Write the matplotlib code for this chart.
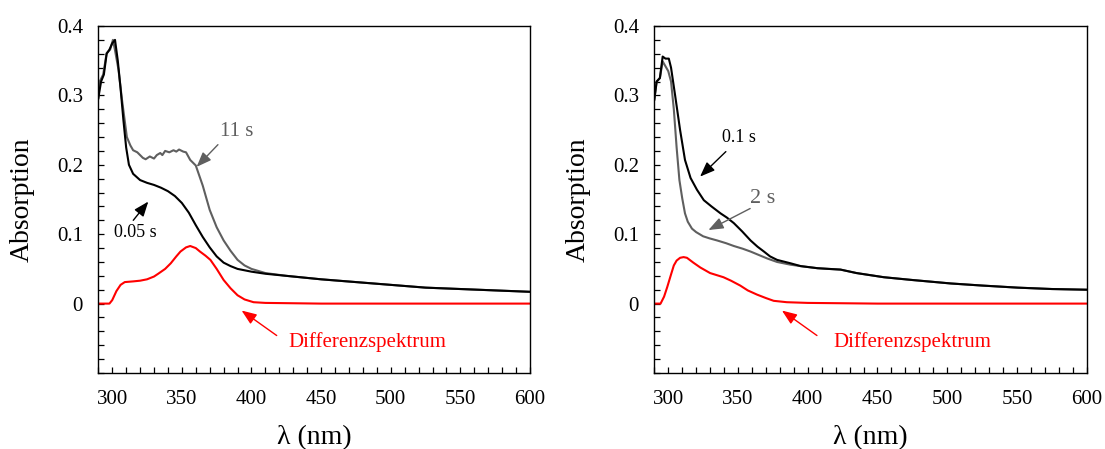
import matplotlib
matplotlib.use("Agg")
import matplotlib.pyplot as plt
from matplotlib.ticker import MultipleLocator, FixedLocator, FuncFormatter

plt.rcParams['font.family'] = ['Liberation Serif', 'DejaVu Serif']

# ---------------- Left panel data ----------------
wl_L_black = [290, 292, 294, 296, 298, 300, 302, 304, 306, 308, 310, 312, 315, 320, 325, 330,
              335, 340, 345, 350, 355, 360, 365, 370, 375, 380, 385, 390, 400, 410, 425, 450,
              475, 500, 525, 550, 575, 600]
abs_L_black = [0.296, 0.320, 0.330, 0.360, 0.366, 0.375, 0.380, 0.350, 0.310, 0.265, 0.225, 0.200,
               0.187, 0.178, 0.174, 0.171, 0.167, 0.162, 0.155, 0.145, 0.131, 0.113, 0.096, 0.081,
               0.068, 0.059, 0.054, 0.050, 0.046, 0.043, 0.040, 0.035, 0.031, 0.027, 0.023, 0.021,
               0.019, 0.017]

wl_L_gray = [290, 291, 293.5, 296, 298.5, 300.5, 302, 304.5, 307, 310.5, 313, 315, 318, 320, 322,
             324, 327, 330, 332, 334.5, 336, 338, 341, 344, 346, 348, 351, 353, 356, 360, 365, 370,
             375, 380, 385, 390, 395, 400, 410, 425, 450, 475, 500, 525, 550, 575, 600]
abs_L_gray = [0.296, 0.320, 0.330, 0.361, 0.366, 0.380, 0.365, 0.337, 0.294, 0.240, 0.228, 0.221,
              0.218, 0.214, 0.210, 0.208, 0.212, 0.209, 0.214, 0.217, 0.214, 0.220, 0.218, 0.221,
              0.219, 0.222, 0.219, 0.218, 0.207, 0.199, 0.170, 0.135, 0.110, 0.091, 0.076, 0.063,
              0.055, 0.050, 0.044, 0.040, 0.035, 0.031, 0.027, 0.023, 0.021, 0.019, 0.017]

wl_L_diff = [290, 298, 300, 303, 306, 309, 315, 320, 325, 330, 333, 338, 342, 346, 349, 353, 356,
             360, 363, 367, 370.5, 375, 380, 385, 390, 395, 401.5, 410, 450, 500, 550, 600]
abs_L_diff = [0.0, 0.0, 0.005, 0.018, 0.027, 0.031, 0.032, 0.033, 0.035, 0.039, 0.043, 0.050,
              0.058, 0.068, 0.075, 0.081, 0.083, 0.080, 0.075, 0.069, 0.063, 0.050, 0.034, 0.022,
              0.012, 0.006, 0.002, 0.001, 0.0, 0.0, 0.0, 0.0]

# ---------------- Right panel data ----------------
wl_R_black = [290, 291.7, 294, 296, 298, 300.4, 302, 305, 308.5, 312, 316, 320.6, 325.5, 331,
              337.5, 342, 347, 353, 359, 364, 368.6, 373, 378, 387.8, 395, 407, 415, 423.5, 435,
              454.6, 475, 502.6, 525, 550.5, 575, 600]
abs_R_black = [0.294, 0.320, 0.325, 0.356, 0.353, 0.353, 0.340, 0.299, 0.250, 0.207, 0.181, 0.164,
               0.149, 0.140, 0.130, 0.124, 0.116, 0.104, 0.091, 0.082, 0.075, 0.068, 0.063, 0.058,
               0.054, 0.051, 0.050, 0.049, 0.044, 0.038, 0.034, 0.029, 0.026, 0.023, 0.021, 0.020]

wl_R_gray = [290, 291.7, 294, 296, 298, 300, 302, 304, 306, 308, 310, 312, 314, 317, 320, 325,
             329.6, 335, 341.5, 347, 353.5, 359, 365, 371, 378, 387.8, 395, 407, 415, 423.5, 435,
             454.6, 475, 502.6, 525, 550.5, 575, 600]
abs_R_gray = [0.294, 0.320, 0.325, 0.349, 0.342, 0.335, 0.320, 0.280, 0.225, 0.178, 0.152, 0.130,
              0.118, 0.108, 0.103, 0.097, 0.094, 0.091, 0.087, 0.083, 0.079, 0.075, 0.070, 0.065,
              0.060, 0.056, 0.054, 0.051, 0.050, 0.049, 0.044, 0.038, 0.034, 0.029, 0.026, 0.023,
              0.021, 0.020]

wl_R_diff = [290, 294.5, 297, 299.3, 302, 304, 306, 308.5, 311, 313.4, 318, 323, 330, 339.6, 345,
             351.6, 357, 363.6, 370, 375.6, 385, 400, 450, 500, 550, 600]
abs_R_diff = [0.0, 0.0, 0.010, 0.024, 0.042, 0.055, 0.062, 0.066, 0.067, 0.066, 0.059, 0.052,
              0.044, 0.038, 0.033, 0.026, 0.019, 0.013, 0.008, 0.004, 0.002, 0.001, 0.0, 0.0, 0.0,
              0.0]

GRAY = '#5f5f5f'
RED = '#ff0000'

fig = plt.figure(figsize=(11.05, 4.49), dpi=100)
axL = fig.add_axes([98.3 / 1105, 1 - 373 / 449, (530 - 98.3) / 1105, (373 - 26) / 449])
axR = fig.add_axes([654.3 / 1105, 1 - 373 / 449, (1086.7 - 654.3) / 1105, (373 - 26) / 449])


def yfmt(v, pos):
    if abs(v) < 1e-9:
        return '0'
    return '%.1f' % v


for ax in (axL, axR):
    ax.set_xlim(290, 600)
    ax.set_ylim(-0.1, 0.4)
    ax.xaxis.set_major_locator(FixedLocator([300, 350, 400, 450, 500, 550, 600]))
    ax.xaxis.set_minor_locator(MultipleLocator(10))
    ax.yaxis.set_major_locator(FixedLocator([0, 0.1, 0.2, 0.3, 0.4]))
    ax.yaxis.set_minor_locator(MultipleLocator(0.02))
    ax.yaxis.set_major_formatter(FuncFormatter(yfmt))
    ax.tick_params(which='both', direction='in', length=4, width=0.9, labelsize=15,
                   top=False, right=False, color='black')
    ax.tick_params(axis='x', which='major', pad=12)
    ax.tick_params(axis='y', which='major', pad=11)
    for s in ax.spines.values():
        s.set_linewidth(1.0)
        s.set_color('black')
    ax.set_xlabel('λ (nm)', fontsize=20, labelpad=12)
    ax.set_ylabel('Absorption', fontsize=20, labelpad=16)

arrow_kw = dict(arrowstyle='-|>,head_length=0.9,head_width=0.35', lw=1.0, shrinkA=0, shrinkB=0)

# Left panel
axL.plot(wl_L_gray, abs_L_gray, color=GRAY, lw=1.5)
axL.plot(wl_L_black, abs_L_black, color='black', lw=1.5)
axL.plot(wl_L_diff, abs_L_diff, color=RED, lw=1.5)

axL.annotate('', xy=(360.6, 0.197), xytext=(375.9, 0.229),
             arrowprops=dict(color=GRAY, **arrow_kw))
axL.text(389.2, 0.248, '11 s', color=GRAY, fontsize=15, ha='center', va='center')
axL.annotate('', xy=(325.9, 0.147), xytext=(315.1, 0.120),
             arrowprops=dict(color='black', **arrow_kw))
axL.text(316.3, 0.102, '0.05 s', color='black', fontsize=13, ha='center', va='center')
axL.annotate('', xy=(392.9, -0.010), xytext=(418.1, -0.046),
             arrowprops=dict(color=RED, **arrow_kw))
axL.text(482.9, -0.055, 'Differenzspektrum', color=RED, fontsize=15, ha='center', va='center')

# Right panel
axR.plot(wl_R_gray, abs_R_gray, color=GRAY, lw=1.5)
axR.plot(wl_R_black, abs_R_black, color='black', lw=1.5)
axR.plot(wl_R_diff, abs_R_diff, color=RED, lw=1.5)

axR.annotate('', xy=(322.8, 0.183), xytext=(341.3, 0.219),
             arrowprops=dict(color='black', **arrow_kw))
axR.text(350.5, 0.239, '0.1 s', color='black', fontsize=13, ha='center', va='center')
axR.annotate('', xy=(328.8, 0.106), xytext=(358.7, 0.137),
             arrowprops=dict(color=GRAY, **arrow_kw))
axR.text(368.0, 0.152, '2 s', color=GRAY, fontsize=16, ha='center', va='center')
axR.annotate('', xy=(381.5, -0.010), xytext=(406.6, -0.046),
             arrowprops=dict(color=RED, **arrow_kw))
axR.text(474.8, -0.055, 'Differenzspektrum', color=RED, fontsize=15, ha='center', va='center')

fig.savefig('out.png', dpi=100)
